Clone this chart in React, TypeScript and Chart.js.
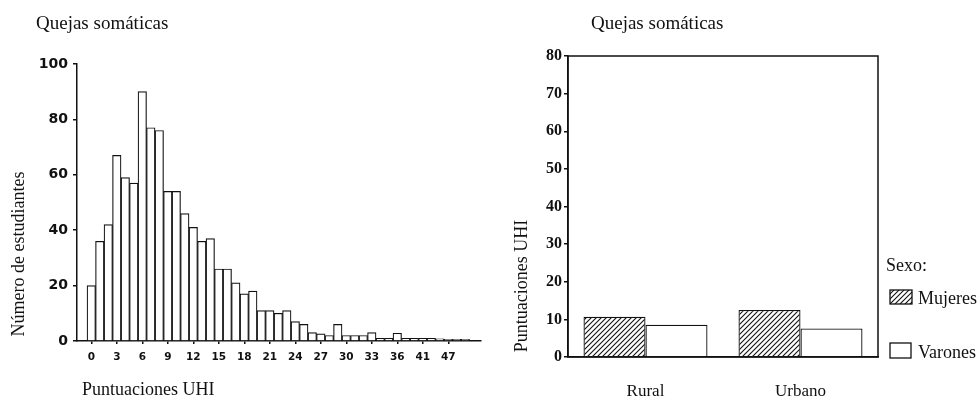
import React, { useEffect, useRef } from "react";
import { Chart, registerables } from "chart.js";

Chart.register(...registerables);

// ---------- Data ----------
const histTitle = "Quejas somáticas";
const histYTitle = "Número de estudiantes";
const histXTitle = "Puntuaciones UHI";
const histBins = [
  0, 1, 2, 3, 4, 5, 6, 7, 8, 9, 10, 11, 12, 13, 14, 15, 16, 17, 18, 19, 20, 21, 22,
  23, 24, 25, 26, 27, 28, 29, 30, 31, 32, 33, 34, 35, 36, 37, 38, 39, 40, 41, 42, 43, 44,
];
const histCounts = [
  20, 36, 42, 67, 59, 57, 90, 77, 76, 54, 54, 46, 41, 36, 37, 26, 26, 21, 17, 18, 11, 11, 10,
  11, 7, 6, 3, 2.6, 2, 6, 2, 2, 2, 3, 1, 1, 2.8, 1, 1, 1, 1, 0.8, 0.6, 0.6, 0.6,
];
const histTickBins = [0, 3, 6, 9, 12, 15, 18, 21, 24, 27, 30, 33, 36, 39, 42];
const histTickLabels = ["0", "3", "6", "9", "12", "15", "18", "21", "24", "27", "30", "33", "36", "41", "47"];
const histYMax = 100;
const histYStep = 20;

const groupTitle = "Quejas somáticas";
const groupYTitle = "Puntuaciones UHI";
const groupCategories = ["Rural", "Urbano"];
const mujeresLabel = "Mujeres";
const varonesLabel = "Varones";
const legendTitle = "Sexo:";
const mujeresValues = [10.7, 12.5];
const varonesValues = [8.6, 7.6];
const groupYMax = 80;
const groupYStep = 10;

// ---------- Styles ----------
const SERIF = "'Liberation Serif', 'Times New Roman', serif";
const INK = "#111";
const W = 489;
const H = 398;

function makeHatch(): CanvasPattern | string {
  const s = 5;
  const c = document.createElement("canvas");
  c.width = s;
  c.height = s;
  const g = c.getContext("2d");
  if (!g) return "#888";
  g.fillStyle = "#fff";
  g.fillRect(0, 0, s, s);
  g.strokeStyle = INK;
  g.lineWidth = 1.1;
  g.beginPath();
  g.moveTo(0, s);
  g.lineTo(s, 0);
  g.moveTo(-1, 1);
  g.lineTo(1, -1);
  g.moveTo(s - 1, s + 1);
  g.lineTo(s + 1, s - 1);
  g.stroke();
  const p = g.createPattern(c, "repeat");
  return p || "#888";
}

type TextItem = { text: string; x: number; y: number; font: string; rotate?: number; align?: CanvasTextAlign };

function textPlugin(id: string, items: TextItem[]) {
  return {
    id,
    afterDraw(chart: any) {
      const ctx = chart.ctx as CanvasRenderingContext2D;
      for (const it of items) {
        ctx.save();
        ctx.fillStyle = INK;
        ctx.font = it.font;
        ctx.textAlign = it.align || "left";
        ctx.textBaseline = "alphabetic";
        ctx.translate(it.x, it.y);
        if (it.rotate) ctx.rotate(it.rotate);
        ctx.fillText(it.text, 0, 0);
        ctx.restore();
      }
    },
  };
}

function HistChart() {
  const ref = useRef<HTMLCanvasElement>(null);
  useEffect(() => {
    if (!ref.current) return;
    const chart = new Chart(ref.current, {
      type: "bar",
      data: {
        datasets: [
          {
            data: histBins.map((b, i) => ({ x: b, y: histCounts[i] })) as any,
            backgroundColor: "#fff",
            borderColor: INK,
            borderWidth: 1.2,
            barPercentage: 1,
            categoryPercentage: 1,
          },
        ],
      },
      options: {
        animation: false,
        responsive: false,
        devicePixelRatio: 1,
        layout: { padding: { left: 0, top: 64, right: 8, bottom: 0 } },
        plugins: { legend: { display: false }, tooltip: { enabled: false } },
        scales: {
          x: {
            type: "linear",
            offset: false,
            min: -1.68,
            max: 45.85,
            afterBuildTicks: (scale: any) => {
              scale.ticks = histTickBins.map((v) => ({ value: v }));
            },
            afterFit: (scale: any) => {
              scale.height = H - 341;
            },
            ticks: {
              autoSkip: false,
              maxRotation: 0,
              minRotation: 0,
              padding: 7,
              color: INK,
              font: { family: "'DejaVu Sans'", size: 10.5, weight: "bold" },
              callback: (v: any) => {
                const i = histTickBins.indexOf(Number(v));
                return i >= 0 ? histTickLabels[i] : "";
              },
            },
            grid: { display: true, offset: false, drawOnChartArea: false, drawTicks: true, tickLength: 3, tickColor: INK, lineWidth: 1.5 },
            border: { display: true, color: INK, width: 1.5 },
          },
          y: {
            min: 0,
            max: histYMax,
            afterFit: (scale: any) => {
              scale.width = 77;
            },
            ticks: {
              stepSize: histYStep,
              padding: 5,
              color: INK,
              font: { family: "'DejaVu Sans'", size: 14, weight: "bold" },
            },
            grid: { display: true, drawOnChartArea: false, drawTicks: true, tickLength: 4, tickColor: INK, lineWidth: 1.5 },
            border: { display: true, color: INK, width: 1.5 },
          },
        },
      },
      plugins: [
        textPlugin("histTexts", [
          { text: histTitle, x: 36, y: 29, font: `19px ${SERIF}` },
          { text: histYTitle, x: 24, y: 254, font: `18px ${SERIF}`, rotate: -Math.PI / 2, align: "center" },
          { text: histXTitle, x: 82, y: 395, font: `18px ${SERIF}` },
        ]),
      ],
    } as any);
    return () => chart.destroy();
  }, []);
  return <canvas ref={ref} width={W} height={H} style={{ width: W, height: H, display: "block" }} />;
}

function GroupChart() {
  const ref = useRef<HTMLCanvasElement>(null);
  useEffect(() => {
    if (!ref.current) return;
    const hatch = makeHatch();
    const legendPlugin = {
      id: "groupLegend",
      afterDraw(chart: any) {
        const ctx = chart.ctx as CanvasRenderingContext2D;
        const a = chart.chartArea;
        ctx.save();
        ctx.strokeStyle = INK;
        ctx.lineWidth = 1.5;
        ctx.strokeRect(a.left, a.top, a.right - a.left, a.bottom - a.top);
        // legend boxes
        ctx.lineWidth = 1.3;
        ctx.fillStyle = hatch as any;
        ctx.fillRect(401, 290, 22, 14);
        ctx.strokeRect(401, 290, 22, 14);
        ctx.fillStyle = "#fff";
        ctx.fillRect(401, 343, 21, 15);
        ctx.strokeRect(401, 343, 21, 15);
        ctx.fillStyle = INK;
        ctx.font = `18px ${SERIF}`;
        ctx.textBaseline = "alphabetic";
        ctx.textAlign = "left";
        ctx.fillText(legendTitle, 397, 271);
        ctx.fillText(mujeresLabel, 429, 304);
        ctx.fillText(varonesLabel, 429, 358);
        ctx.restore();
      },
    };
    const chart = new Chart(ref.current, {
      type: "bar",
      data: {
        labels: groupCategories,
        datasets: [
          {
            label: mujeresLabel,
            data: mujeresValues,
            backgroundColor: hatch as any,
            borderColor: INK,
            borderWidth: 1.3,
            barPercentage: 1,
            categoryPercentage: 0.8,
          },
          {
            label: varonesLabel,
            data: varonesValues,
            backgroundColor: "#fff",
            borderColor: INK,
            borderWidth: 1.3,
            barPercentage: 1,
            categoryPercentage: 0.8,
          },
        ],
      },
      options: {
        animation: false,
        responsive: false,
        devicePixelRatio: 1,
        layout: { padding: { left: 0, top: 56, right: 100, bottom: 0 } },
        plugins: { legend: { display: false }, tooltip: { enabled: false } },
        scales: {
          x: {
            type: "category",
            afterFit: (scale: any) => {
              scale.height = H - 357;
            },
            ticks: {
              padding: 24,
              color: INK,
              font: { family: SERIF, size: 17 },
              maxRotation: 0,
            },
            grid: { display: false, drawTicks: false },
            border: { display: true, color: INK, width: 1.5 },
          },
          y: {
            min: 0,
            max: groupYMax,
            afterFit: (scale: any) => {
              scale.width = 79;
            },
            ticks: {
              stepSize: groupYStep,
              padding: 2,
              color: INK,
              font: { family: SERIF, size: 16, weight: "bold" },
            },
            grid: { display: true, drawOnChartArea: false, drawTicks: true, tickLength: 4, tickColor: INK, lineWidth: 1.5 },
            border: { display: true, color: INK, width: 1.5 },
          },
        },
      },
      plugins: [
        legendPlugin,
        textPlugin("groupTexts", [
          { text: groupTitle, x: 102, y: 29, font: `19px ${SERIF}` },
          { text: groupYTitle, x: 38, y: 286, font: `18px ${SERIF}`, rotate: -Math.PI / 2, align: "center" },
        ]),
      ],
    } as any);
    return () => chart.destroy();
  }, []);
  return <canvas ref={ref} width={W} height={H} style={{ width: W, height: H, display: "block" }} />;
}

export default function App() {
  return (
    <div
      style={{
        position: "fixed",
        left: 0,
        top: 0,
        width: 978,
        height: 398,
        background: "#fff",
        display: "flex",
        flexDirection: "row",
      }}
    >
      <HistChart />
      <GroupChart />
    </div>
  );
}
